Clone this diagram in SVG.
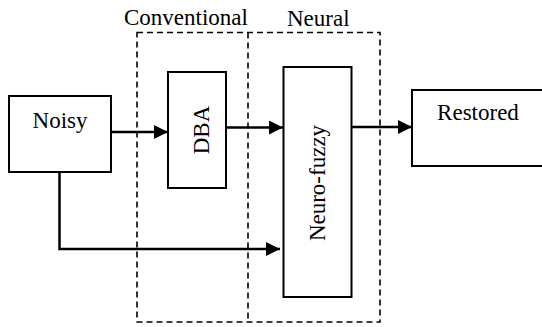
<svg xmlns="http://www.w3.org/2000/svg" width="542" height="327" viewBox="0 0 542 327">
<style>
.box{fill:#fff;stroke:#000;stroke-width:2}
.zone{fill:none;stroke:#000;stroke-width:1.6;stroke-dasharray:6 4}
.conn{fill:none;stroke:#000;stroke-width:2.5}
</style>
<defs>
<marker id="arr" markerUnits="userSpaceOnUse" markerWidth="15" markerHeight="15" refX="14" refY="7" orient="auto">
<path d="M0,0 L14,7 L0,14 z" fill="#000"/>
</marker>
</defs>
<rect width="542" height="327" fill="#fff"/>
<g font-family="Liberation Serif, DejaVu Serif, serif" font-size="23" fill="#000">
<g id="zones">
<rect class="zone" x="137" y="32.5" width="243" height="289.5"/>
<line class="zone" x1="248" y1="32.5" x2="248" y2="322"/>
<text x="124" y="25">Conventional</text>
<text x="287" y="26">Neural</text>
</g>
<g id="noisy">
<rect class="box" x="9" y="96" width="102" height="76"/>
<text x="60" y="128" text-anchor="middle">Noisy</text>
</g>
<g id="dba">
<rect class="box" x="168" y="72" width="58" height="116"/>
<text transform="translate(209,130) rotate(-90)" text-anchor="middle">DBA</text>
</g>
<g id="neurofuzzy">
<rect class="box" x="283.5" y="67" width="68" height="230"/>
<text transform="translate(325,183) rotate(-90)" text-anchor="middle">Neuro-fuzzy</text>
</g>
<g id="restored">
<rect class="box" x="412" y="90" width="140" height="76"/>
<text x="478" y="120" text-anchor="middle">Restored</text>
</g>
</g>
<g id="connectors">
<line class="conn" x1="111" y1="132" x2="168" y2="132" marker-end="url(#arr)"/>
<line class="conn" x1="226" y1="127.5" x2="283" y2="127.5" marker-end="url(#arr)"/>
<line class="conn" x1="351.5" y1="127" x2="412" y2="127" marker-end="url(#arr)"/>
<path class="conn" d="M59.5,172 V249 H280" stroke-width="2.2" marker-end="url(#arr)"/>
</g>
</svg>
